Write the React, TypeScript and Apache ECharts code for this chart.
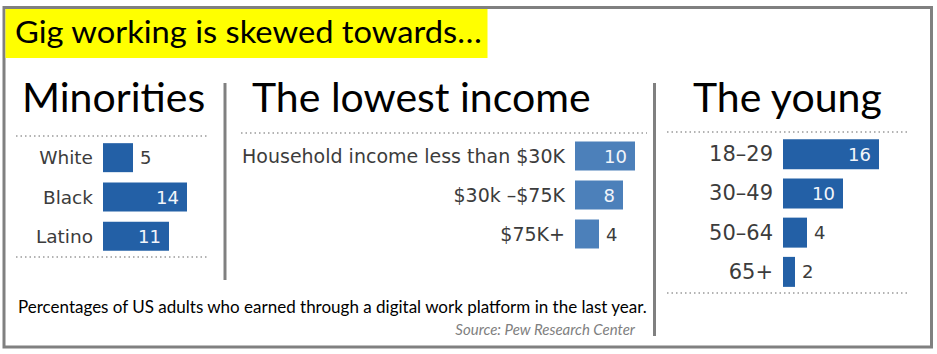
import React, { useEffect, useRef } from "react";
import * as echarts from "echarts";

// Gig-work shares (% of US adults) by group
const raceCategories = ["White", "Black", "Latino"];
const raceValues = [5, 14, 11];

const incomeCategories = ["Household income less than $30K", "$30k –$75K", "$75K+"];
const incomeValues = [10, 8, 4];

const ageCategories = ["18–29", "30–49", "50–64", "65+"];
const ageValues = [16, 10, 4, 2];

const headings = ["Minorities", "The lowest income", "The young"];
const titleText = "Gig working is skewed towards…";
const footnote =
  "Percentages of US adults who earned through a digital work platform in the last year.";
const sourceText = "Source: Pew Research Center";

const W = 937;
const H = 354;
const BAR_FONT = "'DejaVu Sans', Verdana, sans-serif";
const HEAD_FONT = "Lato, 'Open Sans', sans-serif";
const DARK_BLUE = "#2360a6";
const LIGHT_BLUE = "#4c80ba";
const LABEL_GREY = "#3c3c3c";

function labelFor(v: number, insideFrom: number) {
  return v >= insideFrom
    ? { show: true, position: "insideRight", distance: 8, color: "#f2f5fa" }
    : { show: true, position: "right", distance: 7, color: LABEL_GREY };
}

export default function App() {
  const ref = useRef<HTMLDivElement>(null);

  useEffect(() => {
    if (!ref.current) return;
    const chart = echarts.init(ref.current, null, { renderer: "svg" });

    const grids = [
      { left: 103, top: 138, width: 120, height: 118 },
      { left: 575, top: 136.5, width: 120, height: 117 },
      { left: 783, top: 134.5, width: 120, height: 157 },
    ];
    const cats = [raceCategories, incomeCategories, ageCategories];
    const vals = [raceValues, incomeValues, ageValues];
    const colors = [DARK_BLUE, LIGHT_BLUE, DARK_BLUE];
    const catFontSizes = [18.5, 19, 21];

    const dotted = (x1: number, x2: number, y: number) => ({
      type: "line",
      shape: { x1, y1: y, x2, y2: y },
      style: { stroke: "#9a9a9a", lineWidth: 1.5, lineDash: [1.5, 3] },
      silent: true,
    });

    const heading = (text: string, x: number) => ({
      type: "text",
      x,
      y: 96,
      style: { text, font: `41px ${HEAD_FONT}`, fill: "#000", verticalAlign: "middle" },
    });

    const option: any = {
      animation: false,
      backgroundColor: "#ffffff",
      grid: grids.map((g) => ({ ...g, containLabel: false })),
      xAxis: grids.map((_, i) => ({
        type: "value",
        gridIndex: i,
        min: 0,
        max: 20,
        show: false,
      })),
      yAxis: cats.map((c, i) => ({
        type: "category",
        gridIndex: i,
        data: c,
        inverse: true,
        axisLine: { show: false },
        axisTick: { show: false },
        splitLine: { show: false },
        axisLabel: {
          margin: 10,
          color: LABEL_GREY,
          fontFamily: BAR_FONT,
          fontSize: catFontSizes[i],
        },
      })),
      series: vals.map((v, i) => ({
        type: "bar",
        xAxisIndex: i,
        yAxisIndex: i,
        barWidth: i === 2 ? 30 : 29,
        itemStyle: { color: colors[i] },
        label: { fontFamily: BAR_FONT, fontSize: 18 },
        data: v.map((x) => ({ value: x, label: labelFor(x, 8) })),
      })),
      graphic: [
        // frame
        {
          type: "rect",
          shape: { x: 4, y: 7.5, width: 927.5, height: 339.5 },
          style: { fill: "none", stroke: "#808080", lineWidth: 3 },
          silent: true,
        },
        // title banner
        {
          type: "rect",
          shape: { x: 5.5, y: 9, width: 482, height: 49 },
          style: { fill: "#ffff00" },
          silent: true,
        },
        {
          type: "text",
          x: 15,
          y: 32,
          scaleX: 1.09,
          style: {
            text: titleText,
            font: `30px ${HEAD_FONT}`,
            fill: "#000000",
            verticalAlign: "middle",
          },
        },
        // panel headings
        heading(headings[0], 22),
        heading(headings[1], 252),
        heading(headings[2], 693),
        // separators
        {
          type: "line",
          shape: { x1: 225, y1: 83, x2: 225, y2: 280 },
          style: { stroke: "#808080", lineWidth: 3 },
          silent: true,
        },
        {
          type: "line",
          shape: { x1: 654.5, y1: 83, x2: 654.5, y2: 336 },
          style: { stroke: "#808080", lineWidth: 3 },
          silent: true,
        },
        // dotted rules
        dotted(16, 207, 136),
        dotted(16, 207, 257),
        dotted(241, 647, 133),
        dotted(667, 908, 132),
        dotted(667, 908, 293),
        // footnote and source
        {
          type: "text",
          x: 18,
          y: 306,
          style: { text: footnote, font: `17px ${HEAD_FONT}`, fill: "#000", verticalAlign: "middle" },
        },
        {
          type: "text",
          x: 635,
          y: 329,
          style: {
            text: sourceText,
            font: `italic 15px ${HEAD_FONT}`,
            fill: "#7f7f7f",
            align: "right",
            verticalAlign: "middle",
          },
        },
      ],
    };

    chart.setOption(option);
    return () => chart.dispose();
  }, []);

  return (
    <div
      ref={ref}
      style={{ position: "fixed", left: 0, top: 0, width: W, height: H, background: "#fff" }}
    />
  );
}
